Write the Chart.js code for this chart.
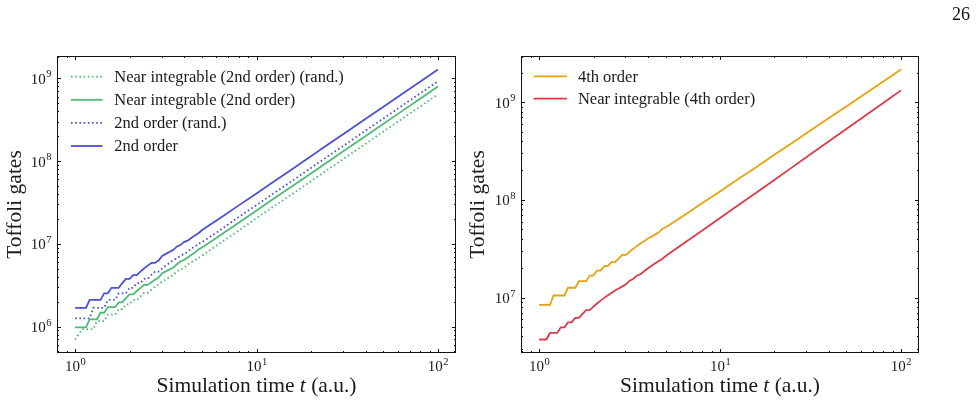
<!DOCTYPE html>
<html>
<head>
<meta charset="utf-8">
<script src="https://cdn.jsdelivr.net/npm/chart.js@4.4.1/dist/chart.umd.min.js"></script>
<style>
  html, body { margin: 0; padding: 0; background: #fff; }
  #wrap { position: relative; width: 977px; height: 405px; overflow: hidden; }
  canvas { position: absolute; left: 0; top: 0; }
  #page { position: absolute; left: 952px; top: 5px; font: 18px "Liberation Serif", serif; line-height: 18px; color: #111; }
</style>
</head>
<body>
<div id="wrap">
  <canvas id="left" width="977" height="405"></canvas>
  <canvas id="right" width="977" height="405"></canvas>
  <div id="page">26</div>
</div>
<script>
// simulation time t (a.u.)
var times = [1, 1.047, 1.096, 1.148, 1.202, 1.259, 1.318, 1.380, 1.445, 1.514, 1.585, 1.660, 1.738,
  1.820, 1.905, 1.995, 2.089, 2.188, 2.291, 2.399, 2.512, 2.630, 2.754, 2.884, 3.020, 3.162, 3.311,
  3.467, 3.631, 3.802, 3.981, 4.169, 4.365, 4.571, 4.786, 5.012, 6.310, 7.943, 10, 12.59, 15.85,
  19.95, 25.12, 31.62, 39.81, 50.12, 63.10, 79.43, 100];

// Toffoli gates, in millions
var nearInt2ndRand = [0.698, 0.81, 0.930, 0.930, 0.930, 0.930, 1.163, 1.163, 1.163, 1.395, 1.395, 1.395,
  1.628, 1.628, 1.860, 1.860, 2.093, 2.093, 2.325, 2.558, 2.558, 2.790, 3.023, 3.255, 3.488, 3.720,
  3.953, 4.185, 4.650, 4.883, 5.115, 5.580, 6.045, 6.278, 6.743, 7.208, 10.23, 14.42, 20.46, 28.83,
  40.46, 57.20, 80.91, 114.2, 161.1, 227.6, 321.3, 453.8, 641.0];
var nearInt2nd = [0.980, 0.980, 0.980, 0.980, 1.225, 1.225, 1.225, 1.470, 1.470, 1.715, 1.715, 1.715,
  1.960, 1.960, 2.205, 2.450, 2.450, 2.695, 2.940, 3.185, 3.185, 3.430, 3.675, 3.920, 4.410, 4.655,
  4.900, 5.145, 5.635, 6.125, 6.370, 6.860, 7.350, 7.840, 8.575, 9.065, 12.74, 17.89, 25.24, 35.77,
  50.47, 71.05, 100.5, 141.9, 200.2, 282.7, 399.4, 564.0, 796.3];
var order2ndRand = [1.26, 1.26, 1.26, 1.26, 1.26, 1.68, 1.68, 1.68, 1.68, 2.10, 2.10, 2.10, 2.52, 2.52,
  2.52, 2.94, 2.94, 3.36, 3.36, 3.78, 3.78, 4.20, 4.62, 4.62, 5.04, 5.46, 5.88, 6.30, 6.72, 7.14,
  7.56, 7.98, 8.82, 9.24, 10.08, 10.50, 14.70, 21.00, 29.40, 41.58, 58.38, 82.74, 116.8, 164.6,
  232.3, 328.0, 463.7, 654.4, 924.0];
var order2nd = [1.68, 1.68, 1.68, 1.68, 2.10, 2.10, 2.10, 2.10, 2.52, 2.52, 2.94, 2.94, 2.94, 3.36,
  3.78, 3.78, 4.20, 4.20, 4.62, 5.04, 5.46, 5.88, 5.88, 6.30, 7.14, 7.56, 7.98, 8.40, 9.24, 9.66,
  10.50, 10.92, 11.76, 12.60, 13.44, 14.70, 20.58, 28.98, 40.74, 57.54, 81.06, 114.2, 161.7, 228.1,
  322.1, 454.9, 642.6, 907.2, 1281];
var order4th = [8.4, 8.4, 8.4, 8.4, 10.5, 10.5, 10.5, 10.5, 12.6, 12.6, 12.6, 14.7, 14.7, 14.7, 16.8,
  16.8, 18.9, 18.9, 21.0, 21.0, 23.1, 23.1, 25.2, 27.3, 27.3, 29.4, 31.5, 33.6, 35.7, 37.8, 39.9,
  42.0, 44.1, 46.2, 50.4, 52.5, 69.3, 92.4, 121.8, 163.8, 216.3, 289.8, 384.3, 514.5, 684.6, 911.4,
  1216, 1621, 2161];
var nearInt4th = [3.72, 3.72, 3.72, 4.34, 4.34, 4.34, 4.96, 4.96, 5.58, 5.58, 6.20, 6.20, 6.82, 7.44,
  7.44, 8.06, 8.68, 9.30, 9.92, 10.54, 11.16, 11.78, 12.40, 13.02, 13.64, 14.88, 15.50, 16.74, 17.36,
  18.60, 19.84, 21.08, 22.32, 23.56, 24.80, 26.66, 35.96, 48.36, 65.10, 88.04, 118.4, 160.0, 216.4,
  292.6, 395.6, 534.4, 722.9, 977.1, 1321];

var SERIF = '"Liberation Serif", "Times New Roman", serif';
var INK = '#1a1a1a';

function toPoints(vals) {
  return times.map(function (t, i) { return { x: t, y: vals[i] * 1e6 }; });
}

function series(label, vals, color, dotted) {
  return {
    label: label,
    data: toPoints(vals),
    borderColor: color,
    borderWidth: 1.8,
    borderDash: dotted ? [1.6, 2.6] : [],
    pointRadius: 0,
    tension: 0,
    fill: false
  };
}

function decadeTicks(scale) {
  var out = [];
  for (var d = Math.ceil(Math.log10(scale.min)); d <= Math.floor(Math.log10(scale.max)); d++) {
    out.push({ value: Math.pow(10, d) });
  }
  scale.ticks = out;
}

// "10" with a raised exponent
function powText(ctx, v, x, y, align) {
  var e = String(Math.round(Math.log10(v)));
  ctx.font = '15px ' + SERIF;
  var w1 = ctx.measureText('10').width;
  ctx.font = '10.5px ' + SERIF;
  var w2 = ctx.measureText(e).width;
  var x0 = align === 'center' ? x - (w1 + w2) / 2 : x - w1 - w2;
  ctx.textAlign = 'left';
  ctx.textBaseline = 'alphabetic';
  ctx.font = '15px ' + SERIF;
  ctx.fillText('10', x0, y);
  ctx.font = '10.5px ' + SERIF;
  ctx.fillText(e, x0 + w1 + 0.5, y - 6.5);
}

// inward ticks on all four sides, frame, tick labels, axis titles and legend
function decor(cfg) {
  return {
    id: 'decor',
    afterDraw: function (chart) {
      var ctx = chart.ctx, a = chart.chartArea;
      var xs = chart.scales.x, ys = chart.scales.y;
      ctx.save();
      ctx.strokeStyle = '#111';
      ctx.lineWidth = 1;
      ctx.strokeRect(a.left + 0.5, a.top + 0.5, a.right - a.left - 1, a.bottom - a.top - 1);

      function marks(scale, horizontal) {
        var lo = Math.floor(Math.log10(scale.min)), hi = Math.ceil(Math.log10(scale.max));
        for (var d = lo; d <= hi; d++) {
          for (var m = 1; m < 10; m++) {
            var v = m * Math.pow(10, d);
            if (v < scale.min || v > scale.max) continue;
            var p = Math.round(scale.getPixelForValue(v)) + 0.5;
            var len = m === 1 ? 4 : 2;
            ctx.beginPath();
            if (horizontal) {
              ctx.moveTo(p, a.bottom); ctx.lineTo(p, a.bottom - len);
              ctx.moveTo(p, a.top); ctx.lineTo(p, a.top + len);
            } else {
              ctx.moveTo(a.left, p); ctx.lineTo(a.left + len, p);
              ctx.moveTo(a.right, p); ctx.lineTo(a.right - len, p);
            }
            ctx.stroke();
          }
        }
      }
      marks(xs, true);
      marks(ys, false);

      ctx.fillStyle = INK;
      xs.ticks.forEach(function (t) {
        powText(ctx, t.value, xs.getPixelForValue(t.value), a.bottom + 18, 'center');
      });
      ys.ticks.forEach(function (t) {
        powText(ctx, t.value, a.left - 6, ys.getPixelForValue(t.value) + 5.5, 'right');
      });

      // x title with italic t
      ctx.textBaseline = 'middle';
      var parts = [['Simulation time ', 'normal'], ['t', 'italic'], [' (a.u.)', 'normal']];
      var w = 0;
      parts.forEach(function (p) { ctx.font = p[1] + ' 21.5px ' + SERIF; p.push(ctx.measureText(p[0]).width); w += p[2]; });
      var x = (a.left + a.right) / 2 - w / 2;
      ctx.textAlign = 'left';
      parts.forEach(function (p) { ctx.font = p[1] + ' 21.5px ' + SERIF; ctx.fillText(p[0], x, 386); x += p[2]; });

      // y title
      ctx.save();
      ctx.translate(cfg.yTitleX, (a.top + a.bottom) / 2);
      ctx.rotate(-Math.PI / 2);
      ctx.textAlign = 'center';
      ctx.font = '21.5px ' + SERIF;
      ctx.fillText('Toffoli gates', 0, 0);
      ctx.restore();

      // legend
      ctx.font = '16.5px ' + SERIF;
      ctx.textAlign = 'left';
      ctx.textBaseline = 'middle';
      chart.data.datasets.forEach(function (ds, i) {
        var y = a.top + cfg.top + i * cfg.step;
        var x0 = a.left + cfg.left;
        ctx.save();
        ctx.strokeStyle = ds.borderColor;
        ctx.lineWidth = ds.borderWidth;
        ctx.setLineDash(ds.borderDash);
        ctx.beginPath();
        ctx.moveTo(x0, y); ctx.lineTo(x0 + cfg.handle, y);
        ctx.stroke();
        ctx.restore();
        ctx.fillStyle = INK;
        ctx.fillText(ds.label, x0 + cfg.text, y + 1);
      });
      ctx.restore();
    }
  };
}

function makeChart(id, datasets, yMin, yMax, pad, yWidth, cfg) {
  return new Chart(document.getElementById(id), {
    type: 'line',
    data: { datasets: datasets },
    options: {
      responsive: false,
      animation: false,
      devicePixelRatio: 1,
      layout: { padding: pad },
      plugins: { legend: { display: false }, tooltip: { enabled: false } },
      scales: {
        x: {
          type: 'logarithmic', min: Math.pow(10, -0.1), max: Math.pow(10, 2.1),
          grid: { display: false, drawTicks: false }, border: { display: false },
          ticks: { display: false, autoSkip: false },
          afterBuildTicks: decadeTicks,
          afterFit: function (s) { s.height = 52; }
        },
        y: {
          type: 'logarithmic', min: yMin, max: yMax,
          grid: { display: false, drawTicks: false }, border: { display: false },
          ticks: { display: false, autoSkip: false },
          afterBuildTicks: decadeTicks,
          afterFit: function (s) { s.width = yWidth; }
        }
      }
    },
    plugins: [decor(cfg)]
  });
}

makeChart('left', [
  series('Near integrable (2nd order) (rand.)', nearInt2ndRand, '#4fbb73', true),
  series('Near integrable (2nd order)', nearInt2nd, '#4fbb73', false),
  series('2nd order (rand.)', order2ndRand, '#4a50d8', true),
  series('2nd order', order2nd, '#4a50d8', false)
], 4.795e5, 1.865e9, { left: 0, top: 56, right: 521, bottom: 0 }, 57,
  { yTitleX: 15.5, top: 20.7, step: 23.1, left: 14, handle: 31.5, text: 43.3 });

makeChart('right', [
  series('4th order', order4th, '#e6a30c', false),
  series('Near integrable (4th order)', nearInt4th, '#dc3a48', false)
], 2.706e6, 2.971e9, { left: 470, top: 56, right: 58, bottom: 0 }, 51,
  { yTitleX: 478.5, top: 20.3, step: 22.3, left: 12.5, handle: 33.4, text: 44.4 });
</script>
</body>
</html>
